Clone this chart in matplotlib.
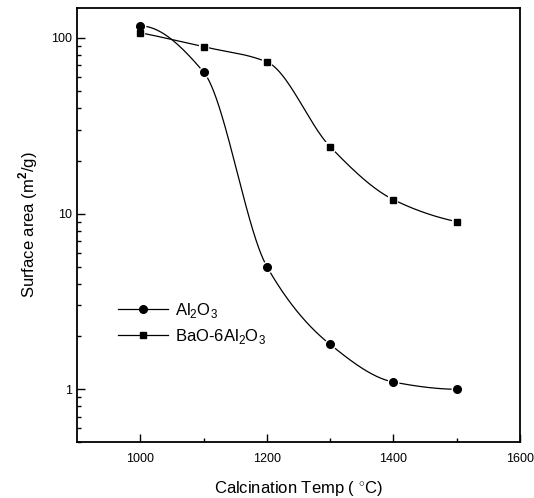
import numpy as np
import matplotlib
matplotlib.use("Agg")
from matplotlib import pyplot as plt
from matplotlib.ticker import FixedLocator, NullFormatter, LogLocator

plt.rcParams['font.family'] = ['Liberation Sans', 'DejaVu Sans']
plt.rcParams['mathtext.fontset'] = 'custom'
plt.rcParams['mathtext.rm'] = 'Liberation Sans'
plt.rcParams['mathtext.bf'] = 'Liberation Sans:bold'

temps = [1000, 1100, 1200, 1300, 1400, 1500]
al2o3 = [117, 64, 5.0, 1.8, 1.1, 1.0]
bao_6al2o3 = [107, 89, 73, 24, 12, 9]


def pchip(x, y, xs, end0, end1):
    # monotone cubic through the points (Fritsch-Carlson)
    x = np.asarray(x, float)
    y = np.asarray(y, float)
    h = np.diff(x)
    d = np.diff(y) / h
    m = np.zeros_like(y)
    for k in range(1, len(x) - 1):
        if d[k - 1] * d[k] > 0:
            w1 = 2 * h[k] + h[k - 1]
            w2 = h[k] + 2 * h[k - 1]
            m[k] = (w1 + w2) / (w1 / d[k - 1] + w2 / d[k])
    m[0] = d[0] * end0
    m[-1] = d[-1] * end1
    out = np.empty_like(xs, dtype=float)
    for j, xv in enumerate(xs):
        k = min(np.searchsorted(x, xv, side='right') - 1, len(x) - 2)
        t = (xv - x[k]) / h[k]
        h00 = 2 * t**3 - 3 * t**2 + 1
        h10 = t**3 - 2 * t**2 + t
        h01 = -2 * t**3 + 3 * t**2
        h11 = t**3 - t**2
        out[j] = h00 * y[k] + h10 * h[k] * m[k] + h01 * y[k + 1] + h11 * h[k] * m[k + 1]
    return out


fig = plt.figure(figsize=(5.34, 4.98), dpi=100)
ax = fig.add_axes([0.144, 0.112, 0.830, 0.872])

xs = np.linspace(temps[0], temps[-1], 400)
series = [(al2o3, 'o', 5.5, r'Al$_2$O$_3$', 0.0, 0.1),
          (bao_6al2o3, 's', 4.8, r'BaO-6Al$_2$O$_3$', 0.9, 0.6)]
for vals, mk, ms, lab, e0, e1 in series:
    ys = 10 ** pchip(temps, np.log10(vals), xs, e0, e1)
    ax.plot(xs, ys, color='black', lw=0.9, zorder=1)
    ax.plot(temps, vals, linestyle='none', marker=mk, ms=ms, color='black',
            markeredgecolor='white', markeredgewidth=3, zorder=2)
    ax.plot(temps, vals, linestyle='none', marker=mk, ms=ms, color='black', zorder=3)
    # legend proxy
    ax.plot([], [], color='black', lw=0.9, marker=mk, ms=ms, label=lab)

ax.set_yscale('log')
ax.set_xlim(900, 1600)
ax.set_ylim(0.5, 148)
ax.set_xticks([1000, 1200, 1400, 1600])
ax.xaxis.set_minor_locator(FixedLocator([1100, 1300, 1500]))
ax.set_yticks([1, 10, 100])
ax.set_yticklabels(['1', '10', '100'])
ax.yaxis.set_minor_locator(LogLocator(base=10, subs=np.arange(2, 10)))
ax.yaxis.set_minor_formatter(NullFormatter())
ax.tick_params(axis='both', which='major', direction='in', length=6, width=1,
               labelsize=9, top=False, right=False)
ax.tick_params(axis='both', which='minor', direction='in', length=3, width=1,
               top=False, right=False)
ax.tick_params(axis='x', pad=8)
for s in ax.spines.values():
    s.set_linewidth(1.3)

ax.set_xlabel(r'Calcination Temp ( $^{\circ}$C)', fontsize=12, labelpad=10)
ax.set_ylabel(r'Surface area (m$^{\mathbf{2}}$/g)', fontsize=12, labelpad=8)

ax.legend(loc='upper left', bbox_to_anchor=(0.06, 0.36), frameon=False,
          fontsize=12, handlelength=3.0, handletextpad=0.4, labelspacing=0.4)

fig.savefig('out.png', dpi=100)
